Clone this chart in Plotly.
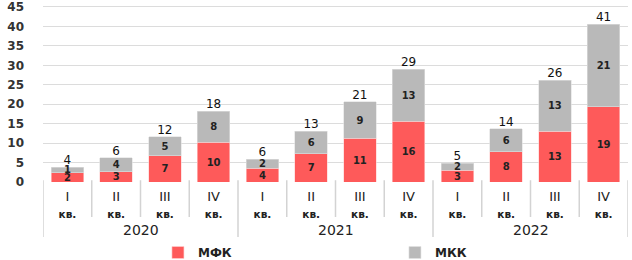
import plotly.graph_objects as go

years = ["2020", "2021", "2022"]
quarters = ["I", "II", "III", "IV"]
mfk = [2.4, 2.6, 6.7, 10.2, 3.6, 7.2, 11.2, 15.6, 3.0, 7.8, 13.0, 19.4]
mkk = [1.4, 3.6, 4.9, 8.0, 2.2, 5.8, 9.4, 13.4, 1.8, 5.9, 13.1, 21.2]
totals = [round(a + b, 1) for a, b in zip(mfk, mkk)]
y_ticks = [0, 5, 10, 15, 20, 25, 30, 35, 40, 45]

RED = "#fe5a5a"
GREY = "#b9b9b9"
FONT = "DejaVu Sans"

n = len(mfk)
xs = list(range(n))
tick_text = [f"{q}<br><span style='font-size:10.5px;font-weight:700'>кв.</span>"
             for y in years for q in quarters]

fig = go.Figure()
fig.add_trace(go.Bar(
    x=xs, y=mfk, name="МФК", marker=dict(color=RED, line=dict(width=0.6, color="#ffd0d0")),
    text=[f"{v:.0f}" for v in mfk], textposition="inside", insidetextanchor="middle",
    textangle=0, textfont=dict(family=FONT, size=10, color="#222222", weight=700),
))
fig.add_trace(go.Bar(
    x=xs, y=mkk, name="МКК", marker=dict(color=GREY, line=dict(width=0.6, color="#e0e0e0")),
    text=[f"{v:.0f}" for v in mkk], textposition="inside", insidetextanchor="middle",
    textangle=0, textfont=dict(family=FONT, size=10, color="#222222", weight=700),
))
fig.add_trace(go.Scatter(
    x=xs, y=totals, mode="text", text=[f"{v:.0f}" for v in totals],
    textposition="top center", textfont=dict(family=FONT, size=12, color="#111111"),
    showlegend=False, hoverinfo="skip", cliponaxis=False,
))

PH = 177.0  # plot height in px
shapes = []
for i in range(n + 1):
    xb = i - 0.5
    year_boundary = (i % 4 == 0)
    shapes.append(dict(type="line", xref="x", yref="paper", x0=xb, x1=xb,
                       y0=0.01, y1=-55 / PH if year_boundary else -35 / PH,
                       line=dict(color="#d3d3d3", width=1.5)))

annotations = []
for k, yr in enumerate(years):
    annotations.append(dict(x=4 * k + 1.5, y=-48 / PH, xref="x", yref="paper",
                            text=yr, showarrow=False, yanchor="middle",
                            font=dict(family=FONT, size=14, color="#222222")))

fig.update_layout(
    width=632, height=260,
    margin=dict(l=43, r=4, t=5, b=78, autoexpand=False),
    barmode="stack", bargap=0.33,
    plot_bgcolor="white", paper_bgcolor="white",
    uniformtext=dict(minsize=10, mode="show"),
    shapes=shapes, annotations=annotations,
    showlegend=True,
    legend=dict(orientation="h", x=0.1965, xanchor="left", y=-56 / PH, yanchor="top",
                entrywidth=192, entrywidthmode="pixels",
                font=dict(family=FONT, size=12, color="#222222", weight=700),
                traceorder="normal"),
    xaxis=dict(range=[-0.5, n - 0.5], tickvals=xs, ticktext=tick_text, automargin=False,
               showgrid=False, zeroline=False, ticks="", showline=False,
               ticklabelstandoff=5,
               tickfont=dict(family=FONT, size=13, color="#222222")),
    yaxis=dict(range=[0, 45.5], tickvals=y_ticks, showgrid=True, gridcolor="#dcdcdc",
               gridwidth=1, zeroline=False, ticklabelstandoff=18, automargin=False,
               ticklabeloverflow="allow",
               tickfont=dict(family=FONT, size=12, color="#333333", weight=700)),
)

fig.write_html("out.html", config={"displayModeBar": False},
               post_script="document.body.style.margin='0';document.body.style.padding='0';")
